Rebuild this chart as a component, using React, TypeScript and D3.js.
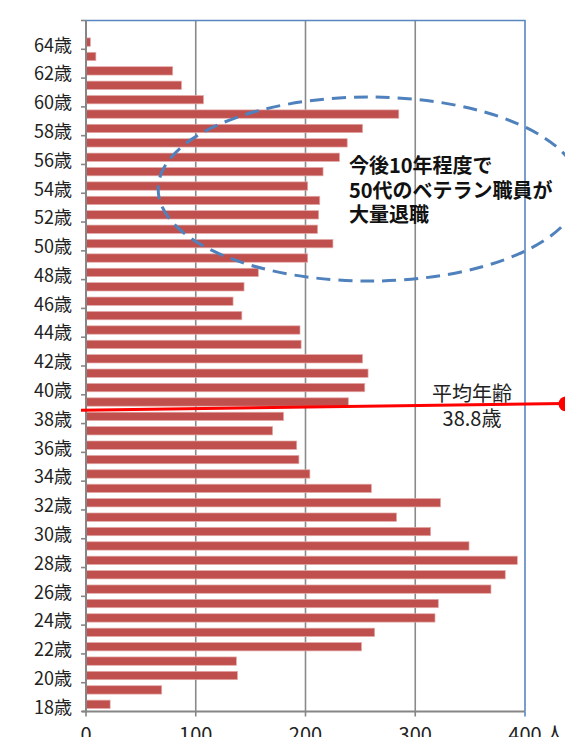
import React, { useEffect, useRef } from 'react';
import * as d3 from 'd3';

// 年齢別職員数 (18歳〜65歳)
const ages: number[] = d3.range(18, 66);
const counts: number[] = [
    22, 69, 138, 137, 251, 263, 318, 321, 369, 382,
    393, 349, 314, 283, 323, 260, 204, 194, 192, 170,
    180, 239, 254, 257, 252, 196, 195, 142, 134, 144,
    157, 202, 225, 211, 212, 213, 202, 216, 231, 238,
    252, 285, 107, 87, 79, 9, 4, 0,
];
const xTicks: number[] = [0, 100, 200, 300, 400];
const yTickAges: number[] = d3.range(18, 65, 2);
const averageAge = 38.8;
const noteLines = ['今後10年程度で', '50代のベテラン職員が', '大量退職'];
const avgLines = ['平均年齢', `${averageAge}歳`];

const FONT = '"Noto Sans CJK JP", "Noto Sans", sans-serif';

export default function App() {
    const svgRef = useRef<SVGSVGElement>(null);

    useEffect(() => {
        if (!svgRef.current) return;
        const svg = d3.select(svgRef.current);
        svg.selectAll('*').remove();

        const left = 86, right = 525, top = 20.5, bottom = 711.5;

        const x = d3.scaleLinear().domain([0, 400]).range([left, right]);
        const y = d3.scaleBand<number>()
            .domain(ages.slice().reverse())
            .range([top, bottom])
            .paddingInner(0.42)
            .paddingOuter(0.21);
        const step = y.step();
        const center = (a: number) => (y(a) ?? 0) + y.bandwidth() / 2;
        const lowerEdge = (a: number) => bottom - (a - 18) * step;

        // gridlines
        svg.append('g')
            .selectAll('line')
            .data(xTicks.filter(t => t > 0 && t < 400))
            .enter().append('line')
            .attr('x1', d => x(d)).attr('x2', d => x(d))
            .attr('y1', top).attr('y2', bottom)
            .attr('stroke', '#8a8a8a')
            .attr('stroke-width', 1.6);

        // plot border (top/right)
        svg.append('path')
            .attr('d', `M${left},${top}H${right}V${bottom}`)
            .attr('fill', 'none')
            .attr('stroke', '#5a87c0')
            .attr('stroke-width', 1.6);

        // bars
        svg.append('g')
            .selectAll('rect')
            .data(ages.map((a, i) => ({ age: a, count: counts[i] })).filter(d => d.count > 0))
            .enter().append('rect')
            .attr('x', x(0))
            .attr('y', d => y(d.age)!)
            .attr('width', d => x(d.count) - x(0))
            .attr('height', y.bandwidth())
            .attr('fill', '#c0504d')
            .attr('stroke', '#e3aaa8')
            .attr('stroke-width', 0.7);

        // axes
        const axis = svg.append('g').attr('stroke', '#868686');
        axis.append('line')
            .attr('x1', left).attr('x2', left)
            .attr('y1', top).attr('y2', bottom + 1)
            .attr('stroke-width', 2);
        axis.append('line')
            .attr('x1', left - 4).attr('x2', right)
            .attr('y1', bottom).attr('y2', bottom)
            .attr('stroke-width', 2);
        axis.selectAll('.yt')
            .data([...yTickAges, 66])
            .enter().append('line')
            .attr('x1', left - 5).attr('x2', left)
            .attr('y1', d => lowerEdge(d)).attr('y2', d => lowerEdge(d))
            .attr('stroke-width', 1.6);
        axis.selectAll('.xt')
            .data(xTicks)
            .enter().append('line')
            .attr('x1', d => x(d)).attr('x2', d => x(d))
            .attr('y1', bottom).attr('y2', bottom + 5)
            .attr('stroke', d => d === 400 ? '#5a87c0' : '#868686')
            .attr('stroke-width', 1.6);

        svg.append('g')
            .selectAll('text')
            .data(yTickAges)
            .enter().append('text')
            .attr('x', 72)
            .attr('y', d => center(d) + 3)
            .attr('dy', '0.36em')
            .attr('text-anchor', 'end')
            .attr('font-family', FONT)
            .attr('font-size', 18)
            .attr('fill', '#222')
            .text(d => `${d}歳`);

        svg.append('g')
            .selectAll('text')
            .data(xTicks)
            .enter().append('text')
            .attr('x', d => x(d))
            .attr('y', 742)
            .attr('text-anchor', 'middle')
            .attr('font-family', FONT)
            .attr('font-size', 20)
            .attr('fill', '#222')
            .text(d => String(d));
        svg.append('text')
            .attr('x', 545)
            .attr('y', 742)
            .attr('font-family', FONT)
            .attr('font-size', 20)
            .attr('fill', '#222')
            .text('人');

        // 50代 annotation ellipse
        const ecy = center(54) + 3;
        svg.append('ellipse')
            .attr('cx', x(258))
            .attr('cy', ecy)
            .attr('rx', 211)
            .attr('ry', 92)
            .attr('fill', 'none')
            .attr('stroke', '#4f81bd')
            .attr('stroke-width', 3)
            .attr('stroke-dasharray', '14 8');

        svg.append('g')
            .selectAll('text')
            .data(noteLines)
            .enter().append('text')
            .attr('x', 349)
            .attr('y', (_, i) => ecy - 23 + i * 24.5)
            .attr('dy', '0.36em')
            .attr('font-family', FONT)
            .attr('font-size', 20)
            .attr('font-weight', 'bold')
            .attr('fill', '#111')
            .text(d => d);

        // 平均年齢 line
        const yAvg = center(38) - (averageAge - 38) * step;
        svg.append('line')
            .attr('x1', 81).attr('y1', yAvg + 5.4)
            .attr('x2', 565).attr('y2', yAvg - 1.4)
            .attr('stroke', '#ff0000')
            .attr('stroke-width', 3);
        svg.append('circle')
            .attr('cx', 566).attr('cy', yAvg - 1)
            .attr('r', 7.5)
            .attr('fill', '#ff0000');

        svg.append('g')
            .selectAll('text')
            .data(avgLines)
            .enter().append('text')
            .attr('x', 472)
            .attr('y', (_, i) => yAvg - 11 + i * 24.5)
            .attr('dy', '0.36em')
            .attr('text-anchor', 'middle')
            .attr('font-family', FONT)
            .attr('font-size', 20)
            .attr('fill', '#222')
            .text(d => d);
    }, []);

    return (
        <svg
            ref={svgRef}
            width={565}
            height={737}
            style={{ position: 'absolute', left: 0, top: 0, background: '#fff' }}
        />
    );
}
